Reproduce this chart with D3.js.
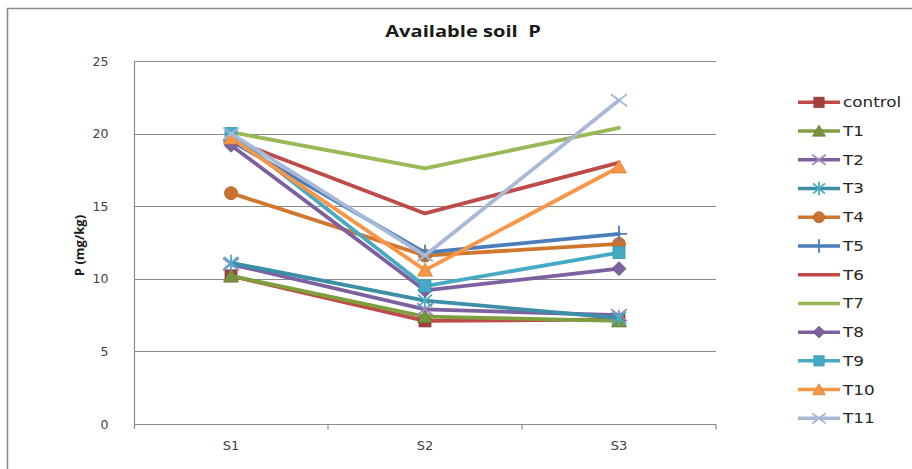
<!DOCTYPE html>
<html>
<head>
<meta charset="utf-8">
<script src="https://cdn.jsdelivr.net/npm/d3@7"></script>
<style>
  html, body { margin: 0; padding: 0; background: #fff; }
  svg { display: block; }
</style>
</head>
<body>
<svg id="chart" width="912" height="469"></svg>
<script>
// Sampling sites along the x axis
const sites = ["S1", "S2", "S3"];

// Available soil P (mg/kg) per treatment, at S1, S2, S3
const control = [10.2, 7.1, 7.2];
const T1  = [10.2, 7.4, 7.1];
const T2  = [11.0, 7.9, 7.5];
const T3  = [11.1, 8.5, 7.3];
const T4  = [15.9, 11.6, 12.4];
const T5  = [19.5, 11.8, 13.1];
const T6  = [19.6, 14.5, 18.0];
const T7  = [20.1, 17.6, 20.4];
const T8  = [19.2, 9.2, 10.7];
const T9  = [20.0, 9.5, 11.8];
const T10 = [19.7, 10.6, 17.7];
const T11 = [20.0, 11.6, 22.3];

const seriesNames = ["control", "T1", "T2", "T3", "T4", "T5", "T6", "T7", "T8", "T9", "T10", "T11"];
const seriesValues = [control, T1, T2, T3, T4, T5, T6, T7, T8, T9, T10, T11];

const yTicks = [0, 5, 10, 15, 20, 25];

// Styling per series: line colour, marker shape, marker fill
const styles = {
  control: { color: "#BE4B48", marker: "square",   fill: "#A5403D" },
  T1:      { color: "#7F9F3F", marker: "triangle", fill: "#77933C" },
  T2:      { color: "#7D60A0", marker: "x",        fill: "#9A87BD" },
  T3:      { color: "#3C8FA6", marker: "asterisk", fill: "#4BACC6" },
  T4:      { color: "#D0772F", marker: "circle",   fill: "#C9732E" },
  T5:      { color: "#4A7EBB", marker: "plus",     fill: "#4A7EBB" },
  T6:      { color: "#BE4B48", marker: "none" },
  T7:      { color: "#98B954", marker: "none" },
  T8:      { color: "#7D60A0", marker: "diamond",  fill: "#7D60A0" },
  T9:      { color: "#46AAC5", marker: "square",   fill: "#46AAC5" },
  T10:     { color: "#F79646", marker: "triangle", fill: "#F79646" },
  T11:     { color: "#A7B9D7", marker: "x",        fill: "#A7B9D7" }
};

const svg = d3.select("#chart");

// Outer chart frame
svg.append("path")
  .attr("d", "M7.5,470 V8.5 H912")
  .attr("fill", "none")
  .attr("stroke", "#8c8c8c")
  .attr("stroke-width", 1.6);

const plot = { left: 134, right: 716, top: 61, bottom: 424 };

const x = d3.scaleBand().domain(sites).range([plot.left, plot.right]).padding(0);
const y = d3.scaleLinear().domain([0, 25]).range([plot.bottom, plot.top]);
const cx = d => x(d) + x.bandwidth() / 2;

// Horizontal gridlines
svg.append("g")
  .selectAll("line")
  .data(yTicks.filter(t => t > 0))
  .join("line")
  .attr("x1", plot.left).attr("x2", plot.right)
  .attr("y1", d => Math.round(y(d)) + 0.5).attr("y2", d => Math.round(y(d)) + 0.5)
  .attr("stroke", "#8a8a8a").attr("stroke-width", 1.2);

// Y axis
const yAxis = svg.append("g")
  .attr("transform", `translate(${plot.left + 0.5},0)`)
  .call(d3.axisLeft(y).tickValues(yTicks).tickSize(0).tickPadding(26));
yAxis.select(".domain").attr("stroke", "#8a8a8a").attr("stroke-width", 1.2)
  .attr("d", `M0,${plot.top}V${plot.bottom + 5}`);
yAxis.selectAll("text")
  .attr("font-family", "DejaVu Sans, Verdana, sans-serif")
  .attr("font-size", 12.5)
  .attr("fill", "#404040");

// X axis with tick marks at category boundaries
const xAxis = svg.append("g")
  .attr("transform", `translate(0,${Math.round(plot.bottom) + 0.5})`)
  .call(d3.axisBottom(x).tickSize(0).tickPadding(16));
xAxis.select(".domain").attr("stroke", "#8a8a8a").attr("stroke-width", 1.2)
  .attr("d", `M${plot.left},0H${plot.right}`);
xAxis.selectAll("text")
  .attr("font-family", "DejaVu Sans, Verdana, sans-serif")
  .attr("font-size", 13)
  .attr("fill", "#404040");
xAxis.selectAll("line.boundary")
  .data(sites.slice(1).concat(["end"]))
  .join("line")
  .attr("class", "boundary")
  .attr("x1", (d, i) => plot.left + x.bandwidth() * (i + 1))
  .attr("x2", (d, i) => plot.left + x.bandwidth() * (i + 1))
  .attr("y1", 0).attr("y2", 5)
  .attr("stroke", "#8a8a8a").attr("stroke-width", 1.2);

// Title (slightly widened lettering)
svg.append("text")
  .attr("transform", "translate(463,37) scale(1.22,1)")
  .attr("text-anchor", "middle")
  .attr("font-family", "Open Sans, sans-serif")
  .attr("font-weight", "bold")
  .attr("font-size", 16.5)
  .attr("fill", "#1a1a1a")
  .attr("xml:space", "preserve")
  .text("Available soil  P");

// Y axis title
svg.append("text")
  .attr("transform", `translate(84,${(plot.top + plot.bottom) / 2 + 3}) rotate(-90)`)
  .attr("text-anchor", "middle")
  .attr("font-family", "Open Sans, sans-serif")
  .attr("font-weight", "bold")
  .attr("font-size", 13)
  .attr("fill", "#1a1a1a")
  .text("P (mg/kg)");

// Marker drawing
function drawMarker(g, type, px, py, st, scale = 1) {
  const s = scale;
  const stroke = d3.color(st.fill || st.color).darker(0.4);
  if (type === "square") {
    g.append("rect")
      .attr("x", px - 6 * s).attr("y", py - 6 * s)
      .attr("width", 12 * s).attr("height", 12 * s)
      .attr("fill", st.fill).attr("stroke", stroke).attr("stroke-width", 0.8);
  } else if (type === "triangle") {
    g.append("path")
      .attr("d", `M${px},${py - 7 * s}L${px + 7.5 * s},${py + 6 * s}L${px - 7.5 * s},${py + 6 * s}Z`)
      .attr("fill", st.fill).attr("stroke", stroke).attr("stroke-width", 0.8);
  } else if (type === "diamond") {
    g.append("path")
      .attr("d", `M${px},${py - 7 * s}L${px + 7 * s},${py}L${px},${py + 7 * s}L${px - 7 * s},${py}Z`)
      .attr("fill", st.fill).attr("stroke", stroke).attr("stroke-width", 0.8);
  } else if (type === "circle") {
    g.append("circle")
      .attr("cx", px).attr("cy", py).attr("r", 6.5 * s)
      .attr("fill", st.fill).attr("stroke", stroke).attr("stroke-width", 0.8);
  } else if (type === "x") {
    g.append("path")
      .attr("d", `M${px - 8 * s},${py - 6 * s}L${px + 8 * s},${py + 6 * s}M${px - 8 * s},${py + 6 * s}L${px + 8 * s},${py - 6 * s}`)
      .attr("fill", "none").attr("stroke", st.fill).attr("stroke-width", 1.8);
  } else if (type === "asterisk") {
    g.append("path")
      .attr("d", `M${px - 7 * s},${py - 6 * s}L${px + 7 * s},${py + 6 * s}M${px - 7 * s},${py + 6 * s}L${px + 7 * s},${py - 6 * s}M${px},${py - 8 * s}L${px},${py + 8 * s}`)
      .attr("fill", "none").attr("stroke", st.fill).attr("stroke-width", 1.8);
  } else if (type === "plus") {
    g.append("path")
      .attr("d", `M${px - 8 * s},${py}L${px + 8 * s},${py}M${px},${py - 8 * s}L${px},${py + 8 * s}`)
      .attr("fill", "none").attr("stroke", st.fill).attr("stroke-width", 1.8);
  }
}

// Series lines and markers
const line = d3.line().x(d => cx(d.site)).y(d => y(d.value));
const seriesG = svg.append("g");
seriesNames.forEach((name, i) => {
  const st = styles[name];
  const pts = sites.map((s, j) => ({ site: s, value: seriesValues[i][j] }));
  const g = seriesG.append("g");
  g.append("path")
    .datum(pts)
    .attr("d", line)
    .attr("fill", "none")
    .attr("stroke", st.color)
    .attr("stroke-width", 3.8)
    .attr("stroke-linejoin", "round")
    .attr("stroke-linecap", "round");
  pts.forEach(p => drawMarker(g, st.marker, cx(p.site), y(p.value), st));
});

// Legend
const legend = svg.append("g");
const legendTop = 102.3, legendStep = 28.73;
seriesNames.forEach((name, i) => {
  const st = styles[name];
  const ly = legendTop + i * legendStep;
  const g = legend.append("g");
  g.append("line")
    .attr("x1", 798).attr("x2", 840)
    .attr("y1", ly).attr("y2", ly)
    .attr("stroke", st.color).attr("stroke-width", 3.5);
  drawMarker(g, st.marker, 819, ly, st, 0.85);
  g.append("text")
    .attr("transform", `translate(843,${ly + 5}) scale(1.2,1)`)
    .attr("font-family", "DejaVu Sans, Verdana, sans-serif")
    .attr("font-size", 14)
    .attr("fill", "#262626")
    .text(name);
});
</script>
</body>
</html>
